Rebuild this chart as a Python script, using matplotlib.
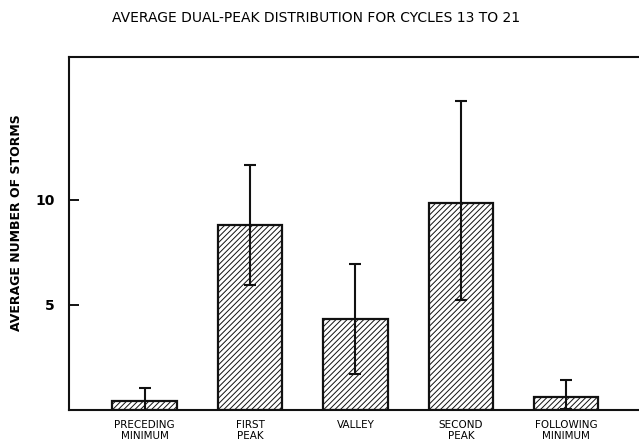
import matplotlib
matplotlib.use("Agg")
import matplotlib.pyplot as plt

# values
categories = ["PRECEDING\nMINIMUM", "FIRST\nPEAK", "VALLEY", "SECOND\nPEAK", "FOLLOWING\nMINIMUM"]
mean_storms = [0.44, 8.8, 4.33, 9.84, 0.63]
err_low = [0.6, 2.85, 2.63, 4.6, 0.58]
err_high = [0.62, 2.85, 2.61, 4.86, 0.8]
yticks = [5, 10]

plt.rcParams["hatch.linewidth"] = 0.7
plt.rcParams["font.family"] = ["DejaVu Sans"]

fig = plt.figure(figsize=(6.39, 4.47), dpi=100)
ax = fig.add_axes([0.108, 0.0828, 0.902, 0.7897])

x = list(range(len(categories)))
ax.bar(x, mean_storms, width=0.61, facecolor="white", edgecolor="#111111",
       linewidth=1.6, hatch="//////", zorder=2)
ax.errorbar(x, mean_storms, yerr=[err_low, err_high], fmt="none",
            ecolor="#111111", elinewidth=1.5, capsize=4, capthick=1.5, zorder=3)

ax.set_xlim(-0.716, 4.75)
ax.set_ylim(0, 16.8)
ax.set_yticks(yticks)
ax.set_yticklabels([str(t) for t in yticks], fontsize=10, fontweight="bold")
ax.tick_params(axis="y", direction="in", length=7, width=1.3, pad=10)
ax.set_xticks(x)
ax.set_xticklabels(categories, fontsize=7.5, linespacing=1.1)
ax.tick_params(axis="x", length=0, pad=7)

for side in ("left", "bottom", "top"):
    ax.spines[side].set_linewidth(1.5)
    ax.spines[side].set_color("#111111")
ax.spines["right"].set_visible(False)

ax.set_ylabel("AVERAGE NUMBER OF STORMS", fontsize=9, fontweight="bold")
ax.yaxis.set_label_coords(-0.08, 0.53)

fig.text(0.495, 0.96, "AVERAGE DUAL-PEAK DISTRIBUTION FOR CYCLES 13 TO 21",
         ha="center", va="center", fontsize=10)

fig.savefig("out.png", dpi=100)
